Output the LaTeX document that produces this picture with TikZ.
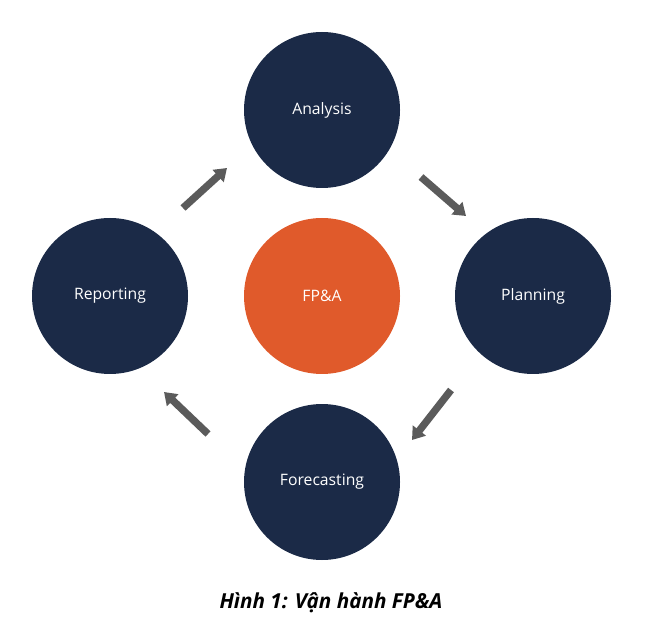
\documentclass[tikz,border=0pt]{standalone}
\usepackage{fontspec}
\setmainfont{Open Sans}
\usepackage{xcolor}
\usetikzlibrary{arrows.meta,positioning}
\definecolor{navy}{HTML}{1B2A47}
\definecolor{fpaorange}{HTML}{E05A2B}
\definecolor{arrgray}{HTML}{5B5B5B}

\begin{document}
\begin{tikzpicture}[
  x=0.75pt, y=-0.75pt,
  stage/.style={circle, fill=navy, minimum size=117pt, inner sep=0pt,
                font=\fontsize{11.8}{14}\selectfont, text=white, align=center},
  core/.style={stage, fill=fpaorange},
  arr/.style={-{Triangle[length=9pt,width=12pt]}, line width=5.5pt, draw=arrgray},
  caption/.style={font=\fontsize{15.5}{18}\selectfont\bfseries\itshape, text=black}
]
  \useasboundingbox (0,0) rectangle (656,630);
  % vòng tròn
  \node[stage] (ana) at (322,110) {Analysis};
  \node[stage] (pla) at (533,296) {Planning};
  \node[stage] (fore) at (322,482) {Forecasting};
  \node[stage] (rep) at (110,296) {Reporting};
  \node[core]  (fpa) at (322,296) {FP\&A};
  % điểm đầu/cuối mũi tên
  \coordinate (a1s) at (183,208);
  \coordinate (a1e) at (227,168);
  \coordinate (a2s) at (421,177);
  \coordinate (a2e) at (466,216);
  \coordinate (a3s) at (451,390);
  \coordinate (a3e) at (412,440);
  \coordinate (a4s) at (208,434);
  \coordinate (a4e) at (164,392);
  % mũi tên
  \draw[arr] (a1s) -- (a1e);
  \draw[arr] (a2s) -- (a2e);
  \draw[arr] (a3s) -- (a3e);
  \draw[arr] (a4s) -- (a4e);
  % chú thích
  \node[caption] (hinh) at (331,603) {Hình 1: Vận hành FP\&A};
\end{tikzpicture}
\end{document}
